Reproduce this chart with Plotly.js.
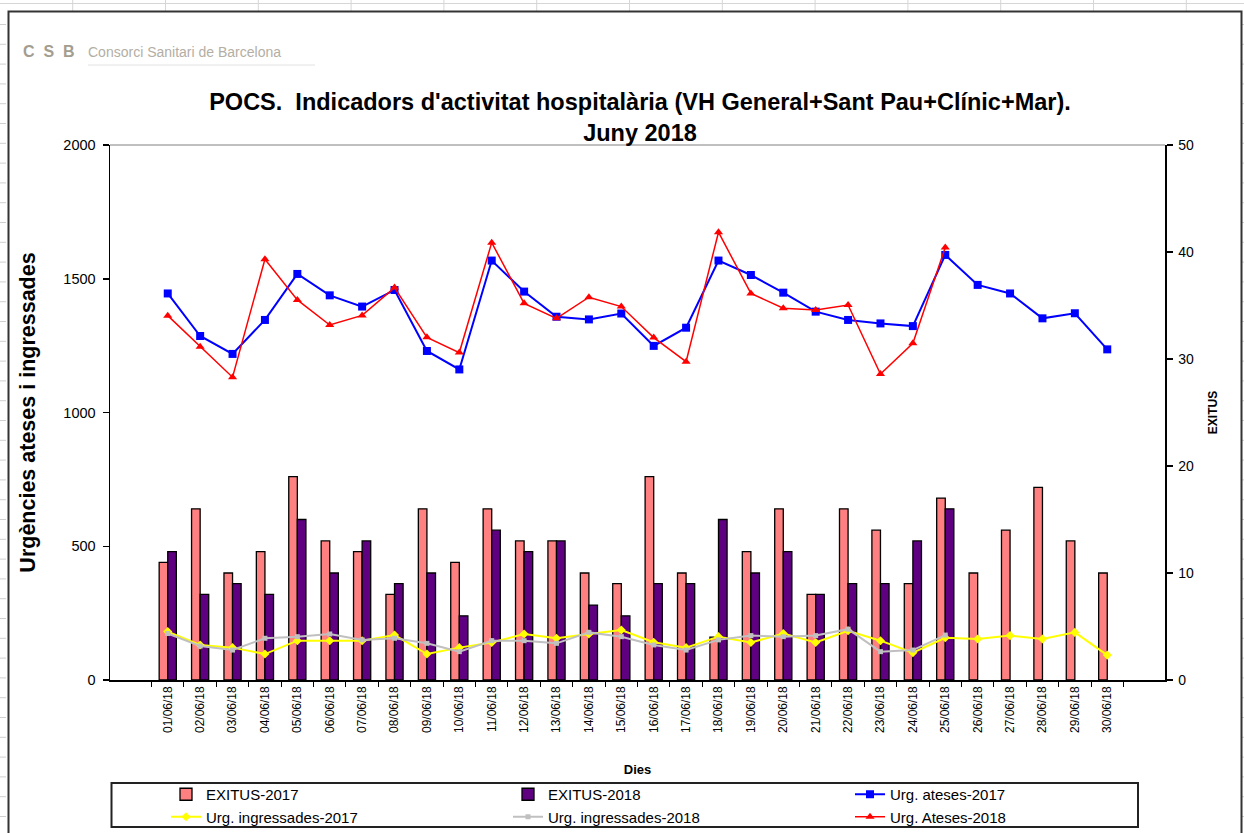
<!DOCTYPE html>
<html><head><meta charset="utf-8">
<script src="https://cdn.plot.ly/plotly-3.0.1.min.js"></script>
<style>html,body{margin:0;padding:0;background:#fff}</style>
</head><body><div id="chart" style="width:1244px;height:833px"></div>
<script>
const days = ["01/06/18","02/06/18","03/06/18","04/06/18","05/06/18","06/06/18","07/06/18","08/06/18","09/06/18","10/06/18",
  "11/06/18","12/06/18","13/06/18","14/06/18","15/06/18","16/06/18","17/06/18","18/06/18","19/06/18","20/06/18",
  "21/06/18","22/06/18","23/06/18","24/06/18","25/06/18","26/06/18","27/06/18","28/06/18","29/06/18","30/06/18"];
const exitus2017 = [11,16,10,12,19,13,12,8,16,11,16,13,13,10,9,19,10,4,12,16,8,16,14,9,17,10,14,18,13,10];
const exitus2018 = [12,8,9,8,15,10,13,9,10,6,14,12,13,7,6,9,9,15,10,12,8,9,9,13,16,null,null,null,null,null];
const ateses2017 = [1445,1286,1219,1346,1518,1438,1396,1458,1230,1161,1568,1452,1358,1348,1370,1249,1317,1568,1514,1448,1377,1346,1333,1323,1589,1477,1445,1352,1371,1236];
const ateses2018 = [1362,1246,1132,1573,1421,1327,1363,1467,1281,1224,1635,1408,1352,1431,1396,1280,1190,1674,1445,1390,1383,1402,1144,1259,1617,null,null,null,null,null];
const ingressades2017 = [181,131,121,97,147,147,147,168,97,121,140,172,156,172,187,141,121,162,140,174,140,184,147,102,158,153,166,153,178,93];
const ingressades2018 = [174,127,112,156,162,172,150,156,137,106,147,147,137,178,162,131,112,150,166,162,166,190,106,112,168,null,null,null,null,null];

const FONT = 'Liberation Sans, Arial, sans-serif';
const L = 110, R = 1165, T = 145, B = 680;
function px(x){ return (x - L) / (R - L); }
function py(y){ return (B - y) / (B - T); }

const traces = [
  {type:'bar', name:'EXITUS-2017', x:days, y:exitus2017, yaxis:'y',
   marker:{color:'#FF8080', line:{color:'#000', width:1.3}}},
  {type:'bar', name:'EXITUS-2018', x:days, y:exitus2018, yaxis:'y',
   marker:{color:'#5E0080', line:{color:'#000', width:1.3}}},
  {type:'scatter', mode:'lines+markers', name:'Urg. ateses-2017', x:days, y:ateses2017, yaxis:'y2',
   line:{color:'#0000FF', width:2}, marker:{symbol:'square', size:8, color:'#0000FF'}},
  {type:'scatter', mode:'lines+markers', name:'Urg. ingressades-2017', x:days, y:ingressades2017, yaxis:'y2',
   line:{color:'#FFFF00', width:2}, marker:{symbol:'diamond', size:7, color:'#FFFF00'}},
  {type:'scatter', mode:'lines+markers', name:'Urg. ingressades-2018', x:days, y:ingressades2018, yaxis:'y2',
   line:{color:'#C0C0C0', width:2}, marker:{symbol:'square', size:5, color:'#C0C0C0'}},
  {type:'scatter', mode:'lines+markers', name:'Urg. Ateses-2018', x:days, y:ateses2018, yaxis:'y2',
   line:{color:'#FF0000', width:1.5}, marker:{symbol:'triangle-up', size:8, color:'#FF0000'}}
];

const shapes = [];
// spreadsheet background grid
shapes.push({type:'line', xref:'paper', yref:'paper', x0:px(0), x1:px(1244), y0:py(3.5), y1:py(3.5), line:{color:'#d6d6d6', width:1}});
for (let k = 0; k < 14; k++) {
  const gx = 72.7 + 92.8 * k;
  shapes.push({type:'line', xref:'paper', yref:'paper', x0:px(gx), x1:px(gx), y0:py(0), y1:py(11), line:{color:'#d6d6d6', width:1}});
}
for (let k = -7; k < 35; k++) {
  const gy = 143.3 + 19.8 * k;
  if (gy < 12 || gy > 833) continue;
  shapes.push({type:'line', xref:'paper', yref:'paper', x0:px(0), x1:px(6), y0:py(gy), y1:py(gy), line:{color:'#cfcfcf', width:1}});
  shapes.push({type:'line', xref:'paper', yref:'paper', x0:px(1242), x1:px(1244), y0:py(gy), y1:py(gy), line:{color:'#cfcfcf', width:1}});
}
// chart frame
shapes.push({type:'rect', xref:'paper', yref:'paper', x0:px(8.5), x1:px(1241.5), y0:py(11.5), y1:py(845), line:{color:'#333', width:2}});
// top border of plot area
shapes.push({type:'line', xref:'paper', yref:'paper', x0:0, x1:1, y0:1, y1:1, line:{color:'#808080', width:1}});
// logo underline
shapes.push({type:'line', xref:'paper', yref:'paper', x0:px(88), x1:px(315), y0:py(65), y1:py(65), line:{color:'#e2e2e2', width:1}});
// legend box
shapes.push({type:'rect', xref:'paper', yref:'paper', x0:px(111.5), x1:px(1138), y0:py(783), y1:py(827), line:{color:'#222', width:2}});

const annotations = [
  {text:'<b>C  S  B</b>', xref:'paper', yref:'paper', x:px(21), y:py(52), xanchor:'left', yanchor:'middle', showarrow:false,
   font:{family:FONT, size:16, color:'#a39d90'}},
  {text:'Consorci Sanitari de Barcelona', xref:'paper', yref:'paper', x:px(86), y:py(52), xanchor:'left', yanchor:'middle', showarrow:false,
   font:{family:'Liberation Sans Narrow, '+FONT, size:14, color:'#b3aea4'}}
];

const layout = {
  width:1244, height:833,
  margin:{l:L, r:1244-R, t:T, b:833-B, pad:0, autoexpand:false},
  paper_bgcolor:'#fff', plot_bgcolor:'rgba(0,0,0,0)',
  font:{family:FONT, color:'#000'},
  barmode:'group', bargap:0.47, bargroupgap:0,
  title:{text:'<b>POCS.\u00a0 Indicadors d\'activitat hospitalària (VH General+Sant Pau+Clínic+Mar).<br>Juny 2018</b>',
    font:{family:FONT, size:23.5, color:'#000'}, xref:'container', x:640/1244, xanchor:'center',
    yref:'container', y:1-110/833, yanchor:'top'},
  xaxis:{type:'category', tickson:'boundaries', ticks:'outside', ticklen:5, tickcolor:'#000', tickwidth:1,
    tickangle:-90, tickfont:{size:12, family:FONT, color:'#000'},
    showline:true, linecolor:'#000', linewidth:1.5, showgrid:false, zeroline:false,
    title:{text:'<b>Dies</b>', font:{size:13, family:FONT}, standoff:33}, automargin:false},
  yaxis:{range:[0,50], dtick:10, side:'right', ticks:'outside', ticklen:6, tickcolor:'#000', tickwidth:1.5,
    tickfont:{size:14, family:FONT, color:'#000'}, ticklabelstandoff:3,
    showline:true, linecolor:'#000', linewidth:1.5, showgrid:false, zeroline:false,
    title:{text:'<b>EXITUS</b>', font:{size:12, family:FONT}, standoff:15}, automargin:false},
  yaxis2:{range:[0,2000], dtick:500, overlaying:'y', side:'left', ticks:'outside', ticklen:6, tickcolor:'#000', tickwidth:1.5,
    tickfont:{size:14.5, family:FONT, color:'#000'}, ticklabelstandoff:4,
    showline:true, linecolor:'#000', linewidth:1.5, showgrid:false, zeroline:false,
    title:{text:'<b>Urgències ateses i ingressades</b>', font:{size:21.5, family:FONT}, standoff:22}, automargin:false},
  showlegend:true,
  legend:{orientation:'h', x:px(166), y:py(778), xanchor:'left', yanchor:'top', traceorder:'normal',
    font:{size:15, family:FONT, color:'#000'}, bgcolor:'rgba(0,0,0,0)', borderwidth:0,
    entrywidth:297, entrywidthmode:'pixels', tracegroupgap:0},
  shapes:shapes,
  annotations:annotations
};

Plotly.newPlot('chart', traces, layout, {displayModeBar:false, staticPlot:true});
</script>
</body></html>
